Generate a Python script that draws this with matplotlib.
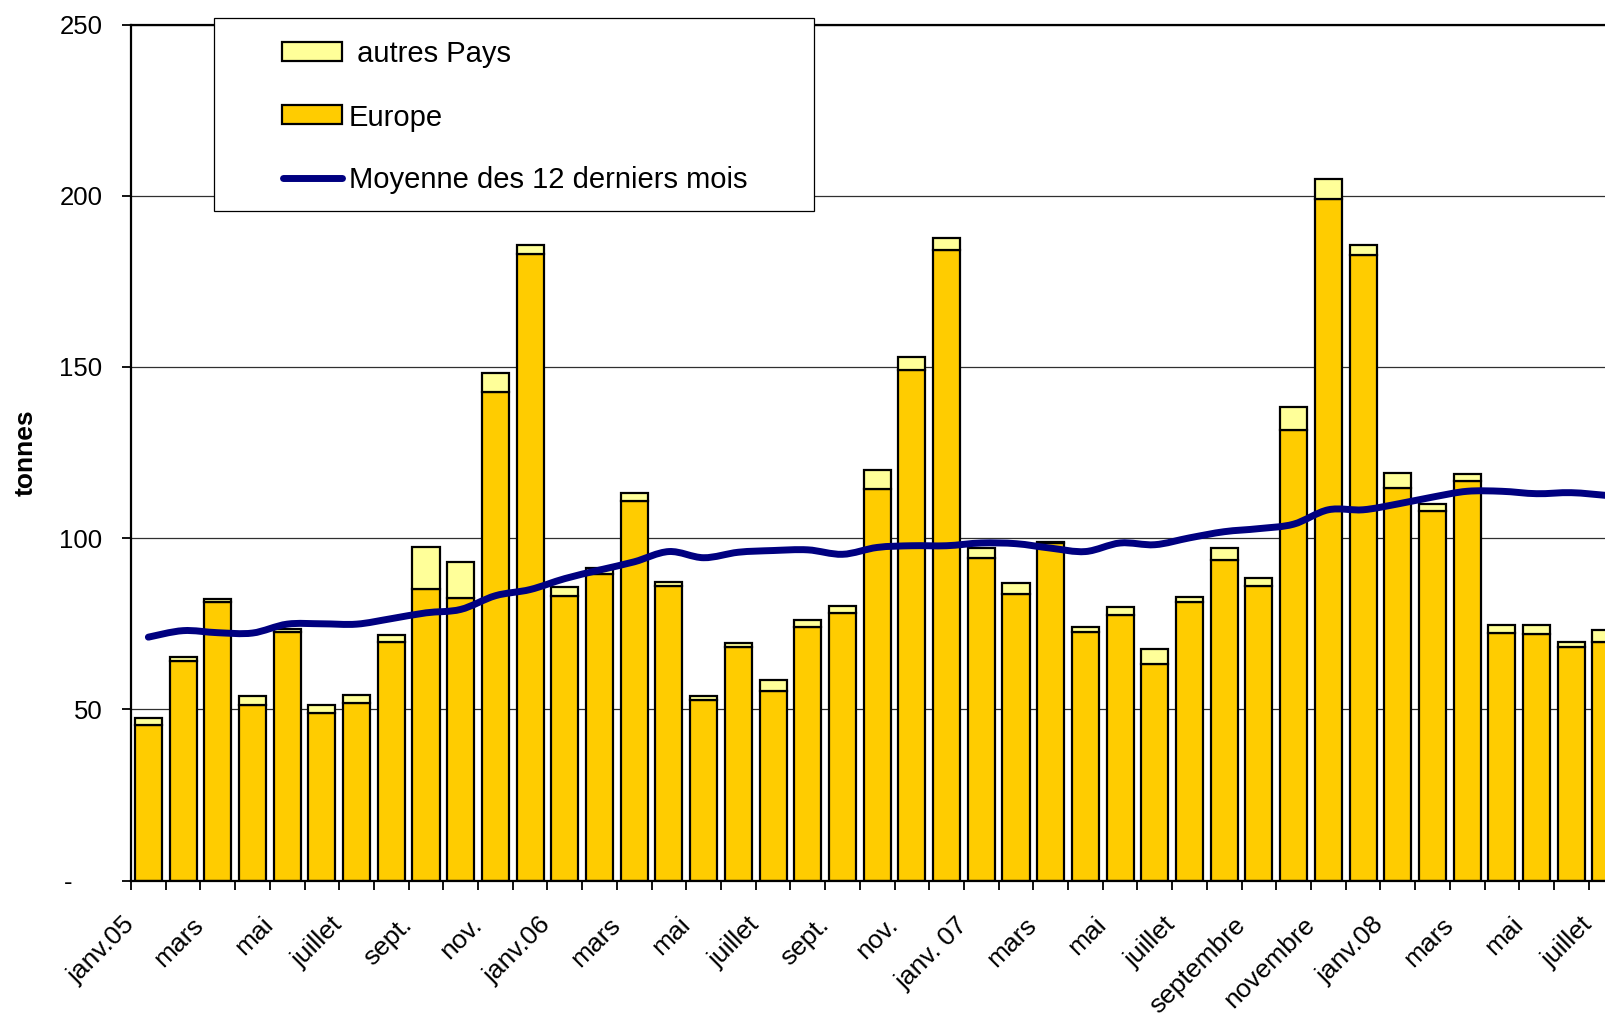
import numpy as np
import matplotlib
matplotlib.use('Agg')
import matplotlib.pyplot as plt
from matplotlib.patches import Rectangle, PathPatch
from matplotlib.lines import Line2D
from matplotlib.path import Path
from matplotlib.transforms import ScaledTranslation

plt.rcParams['font.family'] = ['Liberation Sans', 'DejaVu Sans']

# tonnes par mois, janv. 2005 -> juillet 2008
europe = [45.4, 64.1, 81.4, 51.4, 72.7, 49.0, 51.9, 69.7, 85.2, 82.4, 142.8, 182.9,
          83.2, 89.6, 111.0, 86.1, 52.6, 68.3, 55.4, 74.0, 78.2, 114.4, 149.1, 184.1,
          94.2, 83.8, 98.5, 72.6, 77.5, 63.2, 81.4, 93.7, 85.9, 131.5, 199.2, 182.8,
          114.6, 108.0, 116.8, 72.3, 72.0, 68.1, 69.8]
autres = [2.0, 1.2, 0.9, 2.6, 0.9, 2.2, 2.2, 2.1, 12.2, 10.6, 5.5, 2.7,
          2.5, 1.6, 2.2, 1.2, 1.3, 1.0, 3.1, 2.0, 2.0, 5.4, 3.7, 3.7,
          3.0, 3.0, 0.3, 1.4, 2.5, 4.3, 1.5, 3.3, 2.4, 6.9, 5.7, 2.9,
          4.4, 2.0, 2.0, 2.3, 2.6, 1.5, 3.5]
moyenne = [71.1, 73.0, 72.4, 72.3, 74.9, 75.0, 74.9, 76.5, 78.2, 79.2, 83.2, 85.0,
           88.2, 90.7, 93.1, 96.1, 94.3, 95.9, 96.4, 96.6, 95.3, 97.3, 97.8, 97.8,
           98.6, 98.4, 97.1, 96.1, 98.6, 98.1, 100.1, 101.9, 102.8, 104.1, 108.3, 108.3,
           110.0, 112.0, 113.7, 113.7, 113.0, 113.3, 112.5]
tick_labels = ['janv.05', 'mars', 'mai', 'juillet', 'sept.', 'nov.',
               'janv.06', 'mars', 'mai', 'juillet', 'sept.', 'nov.',
               'janv. 07', 'mars', 'mai', 'juillet', 'septembre', 'novembre',
               'janv.08', 'mars', 'mai', 'juillet']
y_ticks = [0, 50, 100, 150, 200, 250]
y_labels = ['-', '50', '100', '150', '200', '250']

legend_labels = [' autres Pays', 'Europe', 'Moyenne des 12 derniers mois']

EUROPE = '#FFCC00'
AUTRES = '#FFFF99'
NAVY = '#000080'


def smooth_path(xs, ys):
    # courbe lissee facon Excel : bezier passant par chaque point
    pts = np.column_stack([xs, ys]).astype(float)
    n = len(pts)
    verts = [pts[0]]
    codes = [Path.MOVETO]
    for i in range(n - 1):
        p0 = pts[max(i - 1, 0)]
        p1 = pts[i]
        p2 = pts[i + 1]
        p3 = pts[min(i + 2, n - 1)]
        verts += [p1 + (p2 - p0) / 6, p2 - (p3 - p1) / 6, p2]
        codes += [Path.CURVE4] * 3
    return Path(verts, codes)


W, H = 1606, 1014
fig = plt.figure(figsize=(W / 100, H / 100), dpi=100)
ax = fig.add_axes([131 / W, 1 - 880.6 / H, (W - 131) / W, (880.6 - 24.6) / H])

x = np.arange(len(europe))
ax.bar(x, europe, width=0.78, color=EUROPE, edgecolor='black', linewidth=1.6, zorder=2)
ax.bar(x, autres, bottom=europe, width=0.78, color=AUTRES, edgecolor='black', linewidth=1.6, zorder=2)
ax.add_patch(PathPatch(smooth_path(x, moyenne), facecolor='none', edgecolor=NAVY, lw=5,
                       capstyle='round', joinstyle='round', zorder=3))

ax.set_yticks(y_ticks)
ax.set_yticklabels(y_labels)
ax.yaxis.grid(True, color='#303030', lw=0.9)
ax.set_axisbelow(True)
ax.tick_params(axis='y', direction='out', length=6.5, width=1.3, pad=14, labelsize=18.5)
# le tiret du zero est decale a gauche comme dans Excel
zero = ax.get_yticklabels()[0]
zero.set_transform(zero.get_transform() + ScaledTranslation(-30 / 100, 0, fig.dpi_scale_trans))

ax.set_xticks(np.arange(0, len(europe), 2))
ax.set_xticklabels(tick_labels, rotation=45, ha='right', va='top', fontsize=19)
ax.set_xticks(np.arange(-0.5, len(europe) + 0.5, 1), minor=True)
ax.tick_params(axis='x', which='major', length=0, pad=23)
ax.tick_params(axis='x', which='minor', direction='out', length=6.5, width=1.3)
shift = ScaledTranslation(-9 / 100, 0, fig.dpi_scale_trans)
for lab in ax.get_xticklabels():
    lab.set_transform(lab.get_transform() + shift)

# limites apres les ticks (set_xticks elargit la vue)
ax.set_xlim(-0.5, 42.0)
ax.set_ylim(0, 250)

ax.spines['right'].set_visible(False)
for s in ['left', 'bottom', 'top']:
    ax.spines[s].set_linewidth(1.6)

ax.set_ylabel('tonnes', fontsize=19, fontweight='bold', va='center')
ax.yaxis.set_label_coords((26 - 131) / (W - 131), 0.5)


# legende dessinee a la main (cadre plus large que le contenu)
def fx(px):
    return px / W


def fy(py):
    return 1 - py / H


fig.add_artist(Rectangle((fx(214.3), fy(210.7)), fx(814) - fx(214.3), fy(18.3) - fy(210.7),
                         transform=fig.transFigure, facecolor='white', edgecolor='black',
                         linewidth=0.9, zorder=10))
fig.add_artist(Rectangle((fx(282.3), fy(60.7)), fx(341.7) - fx(282.3), fy(41.7) - fy(60.7),
                         transform=fig.transFigure, facecolor=AUTRES, edgecolor='black',
                         linewidth=1.6, zorder=11))
fig.add_artist(Rectangle((fx(282.3), fy(124.3)), fx(341.7) - fx(282.3), fy(105.3) - fy(124.3),
                         transform=fig.transFigure, facecolor=EUROPE, edgecolor='black',
                         linewidth=1.6, zorder=11))
fig.add_artist(Line2D([fx(283), fx(342)], [fy(177.5), fy(177.5)], transform=fig.transFigure,
                      color=NAVY, lw=5, solid_capstyle='round', zorder=11))
for label, ypx in zip(legend_labels, [54, 117.5, 180]):
    fig.text(fx(349), fy(ypx), label, fontsize=21, ha='left', va='center', zorder=12)

fig.savefig('out.png', dpi=100)
